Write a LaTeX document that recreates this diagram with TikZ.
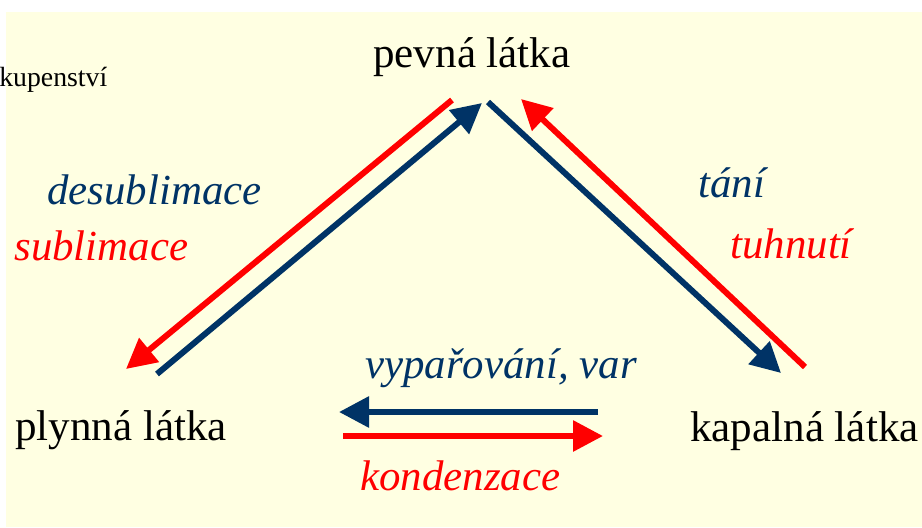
\documentclass[tikz,border=0pt]{standalone}
\usepackage{fontspec}
\setmainfont{Liberation Serif}
\usetikzlibrary{arrows.meta,positioning}
\definecolor{snavy}{HTML}{003366}
\definecolor{sred}{HTML}{FF0000}
\definecolor{sbg}{HTML}{FFFFE2}
\tikzset{
  stav/.style={font=\fontsize{24.5}{28}\selectfont,text=black,inner sep=0pt,anchor=base west},
  dej/.style={font=\fontsize{24.4}{28}\selectfont\itshape,inner sep=0pt,anchor=base west},
  sip/.style={-{Triangle[length=0.6cm,width=0.6cm]},line width=3.4pt},
}
\begin{document}
\begin{tikzpicture}[x=0.02cm,y=-0.02cm]
\useasboundingbox (0,0) rectangle (922,527);
\fill[white] (0,0) rectangle (922,527);
\fill[sbg] (6,12) rectangle (922,527);
% nadpis (oriznuty)
\node[font=\fontsize{15.8}{18}\selectfont,inner sep=0pt,anchor=base west] (nadpis) at (-1,87) {kupenství};
% skupenstvi
\node[stav] (pevna) at (373,68) {pevná látka};
\node[stav] (plyn) at (15,440) {plynná látka};
\node[stav] (kapal) at (690,441) {kapalná látka};
% deje
\node[dej,text=snavy] (desub) at (47,204) {desublimace};
\node[dej,text=sred] (sub) at (14,260) {sublimace};
\node[dej,text=snavy] (tani) at (698,197) {tání};
\node[dej,text=sred] (tuhn) at (730,258) {tuhnutí};
\node[dej,text=snavy] (vypar) at (365,378) {vypařování, var};
\node[dej,text=sred] (kond) at (360,490) {kondenzace};
% konce sipek
\coordinate (a1) at (452,100);
\coordinate (a2) at (126,369);
\coordinate (b1) at (157,374);
\coordinate (b2) at (482,103);
\coordinate (c1) at (488,102);
\coordinate (c2) at (781,373);
\coordinate (d1) at (805,367);
\coordinate (d2) at (521,99);
\coordinate (e1) at (598,412);
\coordinate (e2) at (339,412);
\coordinate (f1) at (343,436);
\coordinate (f2) at (603,436);
% sipky
\draw[sip,sred] (a1) -- (a2);
\draw[sip,snavy] (b1) -- (b2);
\draw[sip,snavy] (c1) -- (c2);
\draw[sip,sred] (d1) -- (d2);
\draw[sip,snavy] (e1) -- (e2);
\draw[sip,sred] (f1) -- (f2);
\end{tikzpicture}
\end{document}
